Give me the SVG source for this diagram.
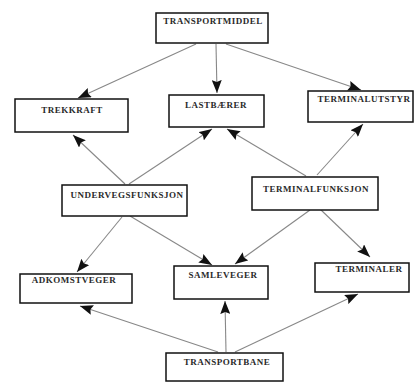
<svg xmlns="http://www.w3.org/2000/svg" width="414" height="383" viewBox="0 0 414 383">
<style>
.box{fill:#fff;stroke:#111;stroke-width:1.5}
.lbl{font-family:"Liberation Serif",serif;font-weight:bold;font-size:9px;letter-spacing:0.5px;fill:#2a2a2a;text-anchor:middle}
.edge{stroke:#888;stroke-width:1.1;fill:none;marker-end:url(#ah)}
</style>
<defs>
<marker id="ah" markerUnits="userSpaceOnUse" markerWidth="13" markerHeight="10" viewBox="0 0 13 10" refX="13" refY="5" orient="auto">
<path d="M0,0 L13,5 L0,10 L2,5 Z" fill="#111"/>
</marker>
</defs>
<rect width="414" height="383" fill="#fff"/>
<g id="connectors">
<line class="edge" x1="196" y1="44" x2="78" y2="98"/>
<line class="edge" x1="216" y1="44" x2="217" y2="93"/>
<line class="edge" x1="226" y1="44" x2="361" y2="90"/>
<line class="edge" x1="125" y1="184" x2="73" y2="135"/>
<line class="edge" x1="129" y1="184" x2="212" y2="129"/>
<line class="edge" x1="306" y1="176" x2="227" y2="129"/>
<line class="edge" x1="317" y1="175" x2="363" y2="124"/>
<line class="edge" x1="122" y1="217" x2="77" y2="272"/>
<line class="edge" x1="130" y1="216" x2="212" y2="265"/>
<line class="edge" x1="310" y1="210" x2="235" y2="264"/>
<line class="edge" x1="320" y1="209" x2="370" y2="257"/>
<line class="edge" x1="218" y1="352" x2="80" y2="306"/>
<line class="edge" x1="226" y1="352" x2="225" y2="301"/>
<line class="edge" x1="235" y1="352" x2="358" y2="294"/>
</g>
<g id="transportmiddel"><rect class="box" x="156" y="13" width="112" height="30"/><text class="lbl" x="213" y="24">TRANSPORTMIDDEL</text></g>
<g id="trekkraft"><rect class="box" x="15" y="99" width="113" height="33"/><text class="lbl" x="72" y="113">TREKKRAFT</text></g>
<g id="lastbaerer"><rect class="box" x="169" y="95" width="95" height="32"/><text class="lbl" x="216" y="108">LASTBÆRER</text></g>
<g id="terminalutstyr"><rect class="box" x="308" y="91" width="105" height="31"/><text class="lbl" x="364" y="102">TERMINALUTSTYR</text></g>
<g id="undervegsfunksjon"><rect class="box" x="62" y="185" width="125" height="31"/><text class="lbl" x="127" y="198">UNDERVEGSFUNKSJON</text></g>
<g id="terminalfunksjon"><rect class="box" x="252" y="177" width="126" height="33"/><text class="lbl" x="316" y="192">TERMINALFUNKSJON</text></g>
<g id="adkomstveger"><rect class="box" x="20" y="274" width="112" height="29"/><text class="lbl" x="74" y="283">ADKOMSTVEGER</text></g>
<g id="samleveger"><rect class="box" x="174" y="266" width="94" height="33"/><text class="lbl" x="223" y="278">SAMLEVEGER</text></g>
<g id="terminaler"><rect class="box" x="315" y="263" width="94" height="29"/><text class="lbl" x="369" y="272">TERMINALER</text></g>
<g id="transportbane"><rect class="box" x="166" y="353" width="117" height="28"/><text class="lbl" x="227" y="365">TRANSPORTBANE</text></g>
</svg>
